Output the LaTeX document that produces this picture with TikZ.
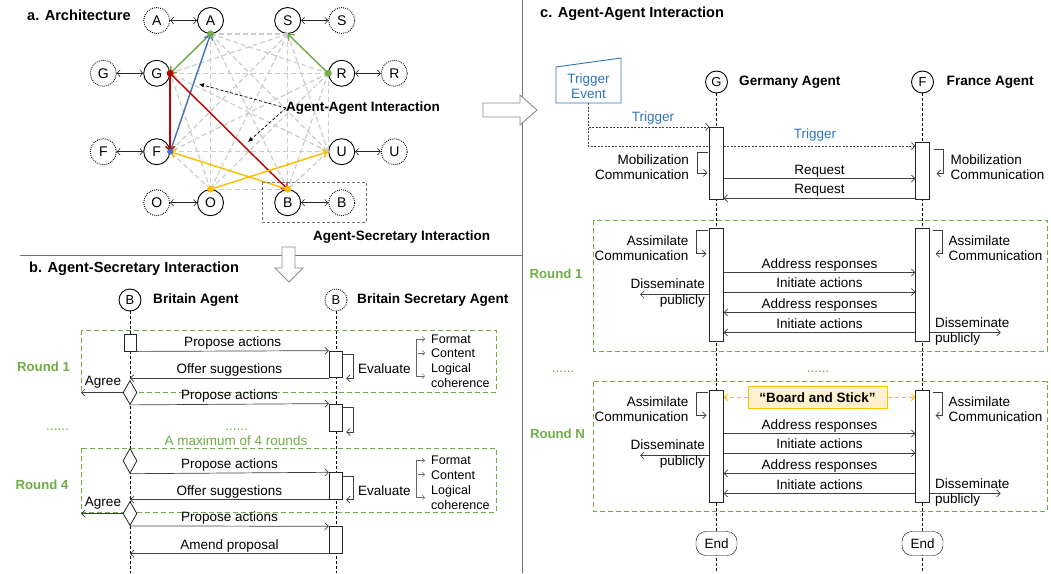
\documentclass[tikz,border=0pt]{standalone}
\usepackage{fontspec}
\setmainfont{Liberation Sans}
\usetikzlibrary{arrows.meta,shapes.geometric,calc}
\definecolor{gr}{HTML}{70AD47}
\definecolor{rd}{HTML}{C00000}
\definecolor{bl}{HTML}{4472C4}
\definecolor{yl}{HTML}{FFC000}
\definecolor{tb}{HTML}{2E75B6}
\definecolor{lnc}{HTML}{404040}
\definecolor{yfill}{HTML}{FFF2CC}
\begin{document}
\begin{tikzpicture}[x=1pt,y=-1pt,
  txt/.style={font=\fontsize{13.5}{15.5}\selectfont, inner sep=0pt},
  stxt/.style={font=\fontsize{12.5}{15}\selectfont, inner sep=0pt},
  btxt/.style={font=\fontsize{14.6}{16}\selectfont\bfseries, inner sep=0pt},
  ntxt/.style={font=\fontsize{13.6}{16}\selectfont\bfseries, inner sep=0pt},
  mtxt/.style={font=\fontsize{13.5}{15.5}\selectfont\bfseries, inner sep=0pt},
  rlbl/.style={font=\fontsize{13.2}{15}\selectfont\bfseries, text=gr, inner sep=0pt},
  agent/.style={circle, draw=black, line width=0.9pt, minimum size=26pt, inner sep=0pt, fill=white, font=\fontsize{14}{14}\selectfont},
  sagent/.style={agent, minimum size=22pt, font=\fontsize{13}{13}\selectfont},
  ghost/.style={agent, dash pattern=on 0.9pt off 1.1pt},
  sghost/.style={sagent, dash pattern=on 0.9pt off 1.1pt},
  dbl/.style={{Straight Barb[length=3pt,width=6.5pt]}-{Straight Barb[length=3pt,width=6.5pt]}, line width=0.6pt, draw=black!85},
  kedge/.style={draw=black!20, line width=1.2pt, dash pattern=on 5pt off 3pt},
  carr/.style={-{Straight Barb[length=4.5pt,width=9pt]}, line width=1.4pt},
  msg/.style={-{Straight Barb[length=3.5pt,width=7pt]}, line width=0.7pt, draw=lnc},
  mlab/.style={font=\fontsize{13.5}{15.5}\selectfont, above, inner sep=1pt, text height=10pt, text depth=3pt},
  act/.style={rectangle, draw=black!85, fill=white, line width=0.8pt, minimum width=13.4pt, inner sep=0pt},
  life/.style={draw=black, line width=1pt, dash pattern=on 3pt off 2pt},
  grbox/.style={draw=gr, line width=1pt, dash pattern=on 5pt off 3pt},
  dsh/.style={-{Straight Barb[length=3.5pt,width=7pt]}, line width=0.7pt, draw=lnc, dash pattern=on 2pt off 1.5pt},
  dshf/.style={-{Latex[length=5pt,width=4.5pt]}, line width=0.7pt, draw=black, dash pattern=on 3pt off 2pt},
  sarr/.style={-{Straight Barb[length=2.5pt,width=5pt]}, line width=0.5pt, draw=black!60},
  hollow/.style={draw=black!45, fill=white, line width=0.9pt},
  sepl/.style={draw=black!55, line width=0.9pt},
  dia/.style={diamond, draw=black!85, fill=white, line width=0.8pt, minimum width=14pt, minimum height=24pt, inner sep=0pt},
  yarr/.style={-{Straight Barb[length=3.5pt,width=7pt]}, line width=1pt, draw=yl, dash pattern=on 4pt off 3pt},
  endn/.style={draw=black, rounded corners=10pt, minimum width=41pt, minimum height=24pt, inner sep=0pt, fill=white, font=\fontsize{13.5}{15}\selectfont},
]
\useasboundingbox (0,0) rectangle (1051,573);

% ---------------- separators ----------------
\draw[sepl] (20,255.7) -- (522.5,255.7);
\draw[sepl] (522.5,0) -- (522.5,573);

% ---------------- panel a ----------------
\node[btxt, anchor=west] at (27,15) {a. Architecture};
\node[agent] (A) at (210.5,20.5) {A};
\node[agent] (S) at (287.7,20.5) {S};
\node[agent] (R) at (341.7,73.3) {R};
\node[agent] (U) at (341.7,151.7) {U};
\node[agent] (B) at (287.7,202.7) {B};
\node[agent] (O) at (210.5,202.7) {O};
\node[agent] (F) at (156.7,151.7) {F};
\node[agent] (G) at (156.7,73.3) {G};
\node[ghost] (A2) at (156.7,20.5) {A};
\node[ghost] (S2) at (341.7,20.5) {S};
\node[ghost] (R2) at (394.3,73.3) {R};
\node[ghost] (U2) at (394.3,151.7) {U};
\node[ghost] (B2) at (341.7,202.7) {B};
\node[ghost] (O2) at (156.7,202.7) {O};
\node[ghost] (F2) at (103.3,151.7) {F};
\node[ghost] (G2) at (103.3,73.3) {G};
\foreach \g/\a in {A2/A,S/S2,R/R2,U/U2,B/B2,O2/O,F2/F,G2/G}{\draw[dbl] (\g) -- (\a);}

\foreach \p [count=\i] in {A.south,S.south,R.west,U.west,B.north,O.north,F.east,G.east}{
  \foreach \q [count=\j] in {A.south,S.south,R.west,U.west,B.north,O.north,F.east,G.east}{
    \ifnum\j>\i \draw[kedge] (\p) -- (\q); \fi
  }
}
\draw[carr, gr] (A.south) -- (G.east);
\draw[carr, bl] (F.east) -- (A.south);
\draw[carr, rd] (G.east) -- (F.east);
\draw[carr, rd] (G.east) -- (B.north);
\draw[carr, gr] (R.west) -- (S.south);
\draw[carr, yl] (O.north) -- (U.west);
\draw[carr, yl] (B.north) -- (F.east);
\fill[gr] (A.south) circle (3.5pt);
\fill[rd] (G.east) circle (3.5pt);
\fill[bl] (F.east) circle (3pt);
\fill[yl] (O.north) circle (3.5pt);
\fill[gr] (R.west) circle (3.5pt);
\fill[yl] (B.north) circle (3.5pt);

\node[mtxt, anchor=west] (aai) at (286,108) {Agent-Agent Interaction};
\coordinate (aa1) at (199,84);
\coordinate (aa2) at (248,142);
\draw[dshf] (aai.west) -- (aa1);
\draw[dshf] (aai.west) -- (aa2);
\draw[draw=black!55, line width=0.8pt, dash pattern=on 3pt off 2pt] (262,182) rectangle (366,222);
\node[mtxt, anchor=west] at (313,237) {Agent-Secretary Interaction};

% hollow arrows
\draw[hollow] (483,103) -- (520,103) -- (520,95) -- (537,110) -- (520,125) -- (520,117) -- (483,117) -- cycle;
\draw[hollow] (282,247) -- (295,247) -- (295,268) -- (303,268) -- (289,282) -- (275,268) -- (282,268) -- cycle;

% ---------------- panel b ----------------
\node[btxt, anchor=west] at (29,269) {b. Agent-Secretary Interaction};
\node[sagent] (Bb) at (130,300) {B};
\node[sghost] (Bs) at (336,300) {B};
\node[ntxt, anchor=west] at (153,300) {Britain Agent};
\node[ntxt, anchor=west] at (357,300) {Britain Secretary Agent};
\coordinate (bbEnd) at (130,573);
\coordinate (bsEnd) at (336,573);
\draw[life] (Bb) -- (bbEnd);
\draw[life] (Bs) -- (bsEnd);

\draw[grbox] (81,330) rectangle (496,392);
\draw[grbox] (81,448.3) rectangle (496,512.3);
\node[rlbl] at (43.5,366.7) {Round 1};
\node[rlbl] at (42,485) {Round 4};
\node[txt, text=gr, anchor=base] at (57.5,430) {......};
\node[txt, text=gr, anchor=base] at (236.5,430) {......};
\node[txt, text=gr] at (236,440.5) {A maximum of 4 rounds};

\node[act, minimum width=12pt, minimum height=17pt] (bx0) at (130,342.5) {};
\node[act, minimum height=26.7pt] (s1) at (336,364.4) {};
\node[act, minimum height=27.6pt] (s2) at (336,417.8) {};
\node[act, minimum height=26.6pt] (s3) at (336,486) {};
\node[act, minimum height=26.6pt] (s4) at (336,540) {};
\node[dia] (d1) at (130,392.5) {};
\node[dia, minimum height=25pt] (d2) at (130,460.8) {};
\node[dia] (d3) at (130,513.5) {};
\coordinate (ag1) at (81,392.5);
\coordinate (ag2) at (81,513.5);

\draw[msg] (bx0.south east) -- (s1.north west) node[midway, mlab] {Propose actions};
\draw[msg] (s1.south west) -- (d1.north |- s1.south west) node[midway, mlab] {Offer suggestions};
\draw[msg] (d1.west) -- (ag1);
\node[txt] at (103,382) {Agree};
\draw[msg] (d1.south) -- (s2.north west) node[midway, mlab] {Propose actions};
\draw[msg] (d2.south) -- (s3.north west) node[midway, mlab] {Propose actions};
\draw[msg] (s3.south west) -- (d3.north |- s3.south west) node[midway, mlab] {Offer suggestions};
\draw[msg] (d3.west) -- (ag2);
\node[txt] at (103,503) {Agree};
\draw[msg] (d3.south) -- (s4.north west) node[midway, mlab] {Propose actions};
\draw[msg] (s4.south west) -- (bbEnd |- s4.south west) node[midway, mlab] {Amend proposal};
\foreach \s in {s1,s2,s3}{
  \draw[msg] ($(\s.north east)+(0,4)$) -| ($(\s.south east)+(10,0)$) -- ($(\s.south east)+(3,0)$);
}
\foreach \dy in {0,121.7}{
  \node[txt, anchor=west] at (358,{369+\dy}) {Evaluate};
  \draw[draw=black!60, line width=0.6pt] (416,{339+\dy}) -- (416,{376+\dy});
  \draw[sarr] (416,{339+\dy}) -- (425,{339+\dy});
  \draw[sarr] (418,{353+\dy}) -- (425,{353+\dy});
  \draw[sarr] (416,{376+\dy}) -- (425,{376+\dy});
  \node[stxt, anchor=west] at (431,{339+\dy}) {Format};
  \node[stxt, anchor=west] at (431,{353.5+\dy}) {Content};
  \node[stxt, anchor=west, align=left] at (431,{376+\dy}) {Logical\\coherence};
}

% ---------------- panel c ----------------
\node[btxt, anchor=west] at (540,13.5) {c. Agent-Agent Interaction};
\node[sagent] (Gc) at (716.5,82) {G};
\node[sagent] (Fc) at (922.5,82) {F};
\node[ntxt, anchor=west] at (739,82) {Germany Agent};
\node[ntxt, anchor=west] at (946.5,82) {France Agent};
\coordinate (gEnd) at (716.5,573);
\coordinate (fEnd) at (922.5,573);
\draw[life] (Gc) -- (gEnd);
\draw[life] (Fc) -- (fEnd);

\draw[tb, line width=0.9pt, fill=white] (556,67) -- (621,58) -- (621,103) -- (556,103) -- cycle;
\node[txt, text=tb, align=center] (trig) at (588.5,86) {Trigger\\Event};
\coordinate (trigb) at (588,103);

\draw[grbox] (593.7,220) rectangle (1047,351);
\draw[grbox] (593.7,381.8) rectangle (1047,511.3);
\node[rlbl] at (556,273.6) {Round 1};
\node[rlbl] at (557.5,434) {Round N};
\node[txt, text=gr, anchor=base] at (563,372) {......};
\node[txt, text=gr, anchor=base] at (818,372) {......};

\node[act, minimum height=72pt] (gb0) at (716.5,163.3) {};
\node[act, minimum height=56.6pt] (fb0) at (922.5,171) {};
\draw[dsh] (trigb) |- (gb0.north west);
\draw[dsh] (trigb) |- (fb0.west |- 0,146);
\node[act, minimum height=72pt] at (716.5,163.3) {};
\node[txt, text=tb] at (653,118) {Trigger};
\node[txt, text=tb] at (815,135) {Trigger};

\node[act, minimum height=113pt] (gb1) at (716.5,285.2) {};
\node[act, minimum height=112.5pt] (fb1) at (922.5,285) {};
\node[act, minimum height=112pt] (gb2) at (716.5,446.4) {};
\node[act, minimum height=112pt] (fb2) at (922.5,446.4) {};

% Mobilization
\draw[msg] ($(gb0.north west)+(-1,25)$) -- ++(-11,0) |- ($(gb0.north west)+(-2,46)$);
\node[txt, anchor=east, align=right] at (689,167) {Mobilization\\Communication};
\draw[msg] ($(fb0.north east)+(4,7.3)$) -- ++(10,0) |- ($(fb0.north east)+(7,31.3)$);
\node[txt, anchor=west, align=left] at (950.5,167) {Mobilization\\Communication};
\draw[msg] (gb0.east |- 0,178.5) -- (fb0.west |- 0,178.5) node[midway, mlab] {Request};
\draw[msg] (fb0.west |- 0,198.3) -- (gb0.east |- 0,198.3) node[midway, mlab] {Request};

% Rounds
\foreach \gb/\fb/\dy in {gb1/fb1/0, gb2/fb2/161}{
  \draw[msg] ($(\gb.north west)+(-1,2.4)$) -- ++(-12,0) |- ($(\gb.north west)+(-3,25.4)$);
  \node[txt, anchor=east, align=right] at (688.5,{248+\dy}) {Assimilate\\Communication};
  \draw[msg] ($(\fb.north east)+(3.5,2.4)$) -- ++(9,0) |- ($(\fb.north east)+(6,25.4)$);
  \node[txt, anchor=west, align=left] at (948.5,{248+\dy}) {Assimilate\\Communication};
  \draw[msg] (\gb.east |- 0,{272.5+\dy}) -- (\fb.west |- 0,{272.5+\dy}) node[midway, mlab] {Address responses};
  \draw[msg] (\gb.east |- 0,{292+\dy}) -- (\fb.west |- 0,{292+\dy}) node[midway, mlab] {Initiate actions};
  \draw[msg] (\fb.west |- 0,{312.4+\dy}) -- (\gb.east |- 0,{312.4+\dy}) node[midway, mlab] {Address responses};
  \draw[msg] (\fb.west |- 0,{332.4+\dy}) -- (\gb.east |- 0,{332.4+\dy}) node[midway, mlab] {Initiate actions};
  \coordinate (dg) at (640,{294.5+\dy});
  \draw[msg] (\gb.west |- dg) -- (dg);
  \node[txt, anchor=east, align=right] at (705,{293+\dy}) {Disseminate\\publicly};
  \coordinate (df) at (1000.7,{332.4+\dy});
  \draw[msg] (\fb.east |- df) -- (df);
  \node[txt, anchor=west, align=left] at (935,{331.5+\dy}) {Disseminate\\publicly};
}

\node[mtxt, draw=yl, fill=yfill, line width=1pt, minimum width=139pt, minimum height=22pt] (bs) at (817.5,397.2) {“Board and Stick”};
\draw[yarr] (bs.west) -- (gb2.east |- bs.west);
\draw[yarr] (bs.east) -- (fb2.west |- bs.east);

\node[endn] (ge) at (716.5,543.5) {End};
\node[endn] (fe) at (922.5,543.5) {End};
\end{tikzpicture}
\end{document}
